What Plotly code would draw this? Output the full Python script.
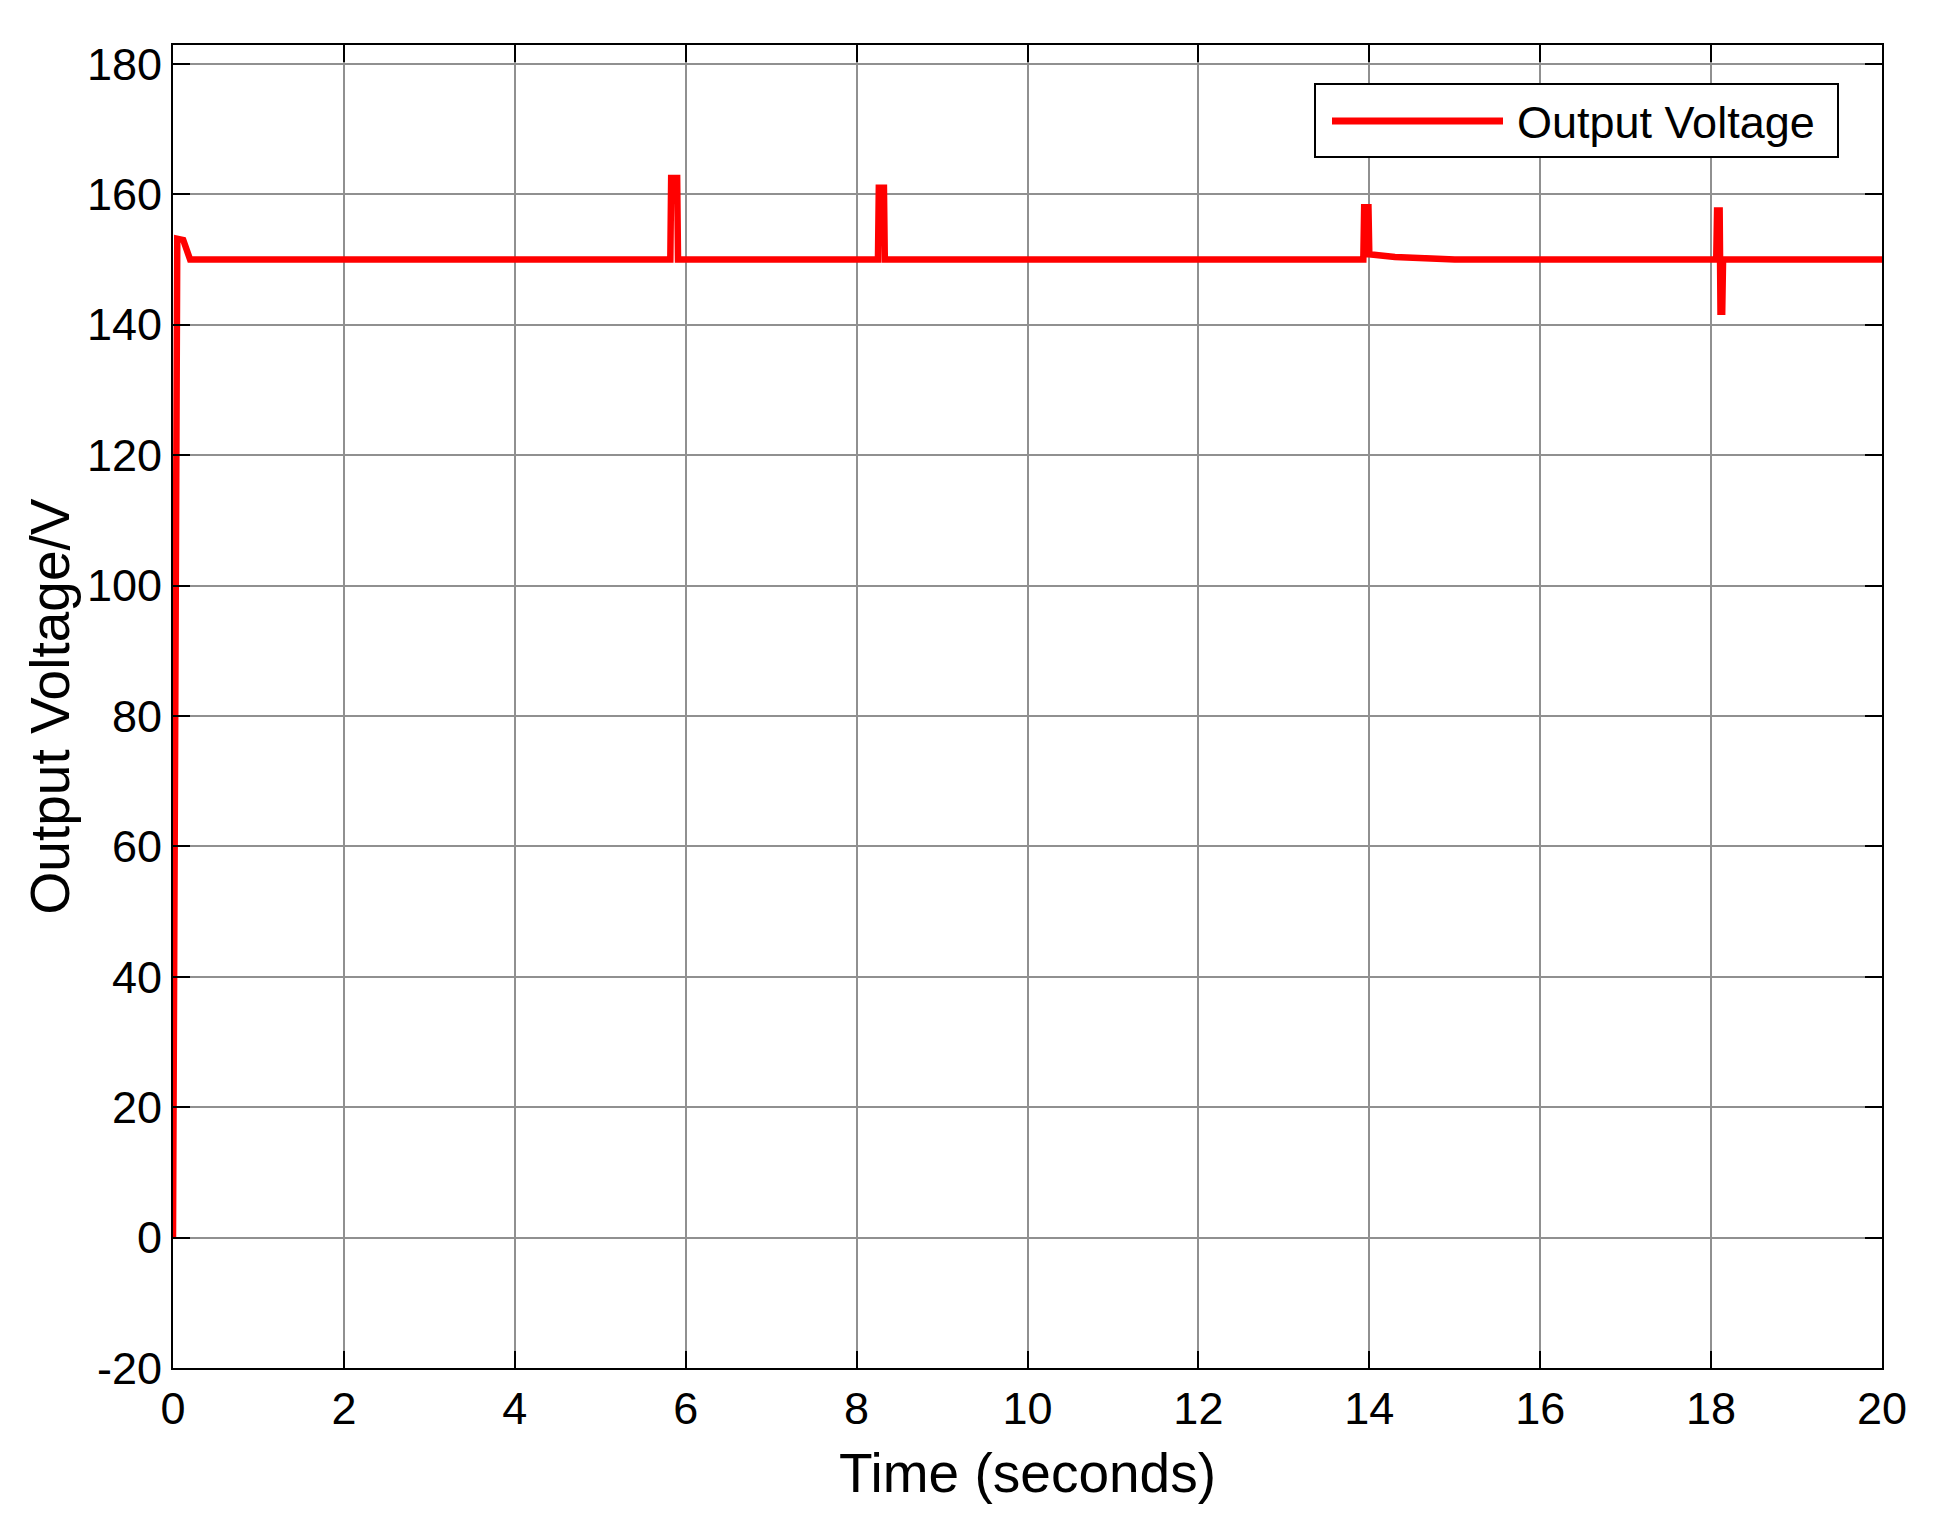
import plotly.graph_objects as go

# Data
time_s = [0.0, 0.035, 0.05, 0.12, 0.2,
          5.82, 5.83, 5.90, 5.91,
          8.25, 8.26, 8.32, 8.33,
          13.93, 13.94, 13.99, 14.0, 14.3, 15.0,
          18.06, 18.07, 18.10, 18.11, 18.13, 18.14,
          20.0]
voltage = [0.0, 150.0, 153.2, 153.0, 150.0,
           150.0, 162.5, 162.5, 150.0,
           150.0, 161.0, 161.0, 150.0,
           150.0, 158.0, 158.0, 150.8, 150.4, 150.0,
           150.0, 157.5, 157.5, 142.0, 142.0, 150.0,
           150.0]

x_ticks = [0, 2, 4, 6, 8, 10, 12, 14, 16, 18, 20]
y_ticks = [-20, 0, 20, 40, 60, 80, 100, 120, 140, 160, 180]
y_tick_text = ["-20", "0", "20", "40", "60", "80", "100", "120", "140", "160", "180"]
legend_label = "Output Voltage"

FONT = "Liberation Sans, Arial, sans-serif"
RED = "#ff0000"

fig = go.Figure()
fig.add_trace(go.Scatter(x=time_s, y=voltage, mode="lines",
                         line=dict(color=RED, width=6.5),
                         name=legend_label, showlegend=False))

axis_common = dict(showline=True, linecolor="black", linewidth=2,
                   mirror="ticks", ticks="inside", ticklen=17, tickwidth=2,
                   tickcolor="black", showgrid=True, gridcolor="#909090",
                   gridwidth=1.5, zeroline=False,
                   tickfont=dict(family=FONT, size=45, color="black"))

fig.update_xaxes(range=[0, 20], tickvals=x_ticks, ticklabelstandoff=0,
                 title=dict(text="Time (seconds)", standoff=20,
                            font=dict(family=FONT, size=55, color="black")),
                 **axis_common)
fig.update_yaxes(range=[-20, 182.9], tickvals=y_ticks, ticktext=y_tick_text,
                 ticklabelstandoff=0,
                 title=dict(text="Output Voltage/V", standoff=0,
                            font=dict(family=FONT, size=55, color="black")),
                 **axis_common)

# Legend box (drawn manually to match the long legend line)
fig.add_shape(type="rect", xref="paper", yref="paper",
              x0=(1315 - 173) / 1709, x1=(1838 - 173) / 1709,
              y0=(1368 - 157) / 1323, y1=(1368 - 84) / 1323,
              line=dict(color="black", width=2), fillcolor="white", layer="above")
fig.add_shape(type="line", xref="paper", yref="paper",
              x0=(1332 - 173) / 1709, x1=(1503 - 173) / 1709,
              y0=(1368 - 121) / 1323, y1=(1368 - 121) / 1323,
              line=dict(color=RED, width=7), layer="above")
fig.add_annotation(xref="paper", yref="paper",
                   x=(1515 - 173) / 1709, y=(1368 - 122) / 1323,
                   xanchor="left", yanchor="middle", showarrow=False,
                   text=legend_label,
                   font=dict(family=FONT, size=45, color="black"))

fig.update_layout(width=1941, height=1538,
                  margin=dict(l=165, r=67, t=37, b=178, autoexpand=False),
                  paper_bgcolor="white", plot_bgcolor="white",
                  showlegend=False)

fig.write_html("out.html")
